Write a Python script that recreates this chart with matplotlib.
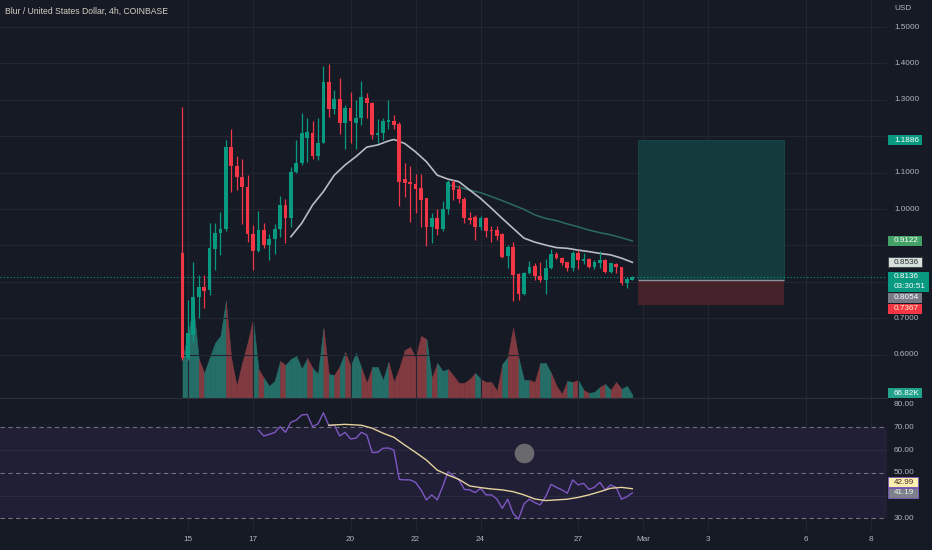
import numpy as np
import pandas as pd
import matplotlib
matplotlib.use('Agg')
import matplotlib.pyplot as plt
import matplotlib.dates as mdates
from matplotlib.patches import Rectangle

# 4h candles, first one opens 2023-02-14 20:00
opens = [0.879, 0.591, 0.654, 0.758, 0.786, 0.778, 0.890, 0.935, 0.945, 1.171,
         1.118, 1.089, 1.061, 0.931, 0.885, 0.942, 0.901, 0.918, 0.944, 1.011,
         0.976, 1.102, 1.126, 1.196, 1.210, 1.146, 1.182, 1.350, 1.275, 1.302,
         1.235, 1.277, 1.235, 1.251, 1.304, 1.290, 1.203, 1.208, 1.240, 1.242,
         1.233, 1.082, 1.074, 1.070, 1.057, 1.029, 0.951, 0.974, 0.944, 1.000,
         1.075, 1.054, 1.027, 0.975, 0.979, 0.951, 0.976, 0.942, 0.942, 0.930,
         0.871, 0.896, 0.821, 0.766, 0.825, 0.843, 0.816, 0.805, 0.837, 0.876,
         0.865, 0.854, 0.837, 0.880, 0.857, 0.864, 0.842, 0.852, 0.860, 0.828,
         0.849, 0.842, 0.797, 0.806]
highs = [1.280, 0.750, 0.854, 0.819, 0.819, 0.961, 0.961, 0.992, 1.190, 1.219,
         1.146, 1.137, 1.093, 0.956, 0.995, 0.961, 0.931, 0.959, 1.036, 1.027,
         1.115, 1.190, 1.265, 1.249, 1.242, 1.249, 1.393, 1.398, 1.327, 1.359,
         1.286, 1.322, 1.300, 1.352, 1.318, 1.295, 1.246, 1.250, 1.300, 1.258,
         1.238, 1.126, 1.118, 1.096, 1.096, 1.031, 0.988, 1.000, 1.023, 1.080,
         1.080, 1.066, 1.034, 0.993, 0.984, 0.982, 0.979, 0.953, 0.953, 0.933,
         0.901, 0.910, 0.824, 0.827, 0.858, 0.851, 0.854, 0.862, 0.889, 0.882,
         0.869, 0.855, 0.885, 0.887, 0.880, 0.865, 0.860, 0.885, 0.864, 0.853,
         0.852, 0.842, 0.814, 0.816]
lows = [0.585, 0.585, 0.635, 0.700, 0.728, 0.765, 0.832, 0.874, 0.940, 1.048,
        1.052, 0.959, 0.910, 0.832, 0.883, 0.893, 0.860, 0.876, 0.924, 0.907,
        0.951, 1.100, 1.120, 1.130, 1.137, 1.135, 1.180, 1.254, 1.260, 1.206,
        1.164, 1.180, 1.164, 1.230, 1.249, 1.191, 1.182, 1.190, 1.220, 1.220,
        1.009, 1.034, 0.965, 0.990, 0.951, 0.899, 0.907, 0.929, 0.940, 0.986,
        1.025, 1.016, 0.962, 0.960, 0.915, 0.943, 0.924, 0.910, 0.915, 0.866,
        0.837, 0.748, 0.750, 0.763, 0.821, 0.805, 0.800, 0.767, 0.835, 0.862,
        0.846, 0.830, 0.830, 0.834, 0.849, 0.837, 0.836, 0.837, 0.823, 0.823,
        0.825, 0.791, 0.782, 0.805]
closes = [0.591, 0.658, 0.758, 0.786, 0.775, 0.893, 0.935, 0.945, 1.171, 1.118,
          1.089, 1.061, 0.931, 0.885, 0.942, 0.901, 0.918, 0.944, 1.011, 0.976,
          1.102, 1.126, 1.208, 1.212, 1.146, 1.182, 1.350, 1.275, 1.302, 1.235,
          1.277, 1.243, 1.249, 1.309, 1.290, 1.203, 1.210, 1.242, 1.245, 1.231,
          1.075, 1.071, 1.070, 1.055, 1.025, 0.951, 0.974, 0.944, 1.000, 1.075,
          1.052, 1.027, 0.974, 0.971, 0.951, 0.976, 0.940, 0.940, 0.926, 0.869,
          0.896, 0.819, 0.766, 0.825, 0.842, 0.816, 0.805, 0.837, 0.876, 0.865,
          0.851, 0.837, 0.880, 0.860, 0.863, 0.842, 0.854, 0.860, 0.828, 0.851,
          0.840, 0.798, 0.808, 0.8136]
volumes_k = [870, 1427, 2052, 870, 558, 892, 1227, 1383, 2163, 870,
             268, 781, 1227, 1762, 647, 446, 268, 379, 825, 736,
             870, 937, 647, 892, 669, 535, 1561, 535, 513, 714,
             1026, 714, 1004, 669, 335, 691, 691, 401, 803, 357,
             669, 1070, 1137, 892, 1383, 1316, 446, 781, 602, 647,
             491, 335, 335, 424, 558, 424, 357, 357, 156, 758,
             914, 1561, 892, 401, 401, 357, 781, 781, 558, 268,
             89, 379, 357, 401, 178, 112, 134, 245, 312, 178,
             357, 201, 268, 66.82]

# moving averages on price (candle index, value)
ma20_idx = [20, 22, 24, 26, 28, 30, 32, 34, 36, 38, 39, 41, 43, 45, 47, 49, 51,
            53, 55, 57, 59, 61, 63, 65, 67, 69, 71, 73, 75, 77, 79, 81, 83]
ma20_vals = [0.924, 0.961, 1.011, 1.048, 1.093, 1.121, 1.144, 1.170, 1.176, 1.187,
             1.191, 1.180, 1.157, 1.130, 1.093, 1.082, 1.075, 1.052, 1.029, 1.002,
             0.974, 0.947, 0.920, 0.909, 0.901, 0.894, 0.892, 0.887, 0.883, 0.878,
             0.874, 0.865, 0.8536]
ma50_idx = [49, 51, 53, 55, 57, 59, 61, 63, 65, 67, 69, 71, 73, 75, 77, 79, 81, 83]
ma50_vals = [1.066, 1.060, 1.052, 1.045, 1.034, 1.023, 1.011, 0.999, 0.984, 0.974,
             0.968, 0.959, 0.951, 0.942, 0.935, 0.929, 0.921, 0.9122]

# RSI pane
rsi_start = 14
rsi_vals = [68.8, 66.2, 66.9, 67.7, 70.3, 67.8, 72.2, 73.2, 75.4, 75.7,
            70.3, 71.5, 76.4, 70.7, 71.0, 66.2, 67.8, 64.9, 65.2, 67.8,
            66.6, 58.9, 59.0, 60.8, 60.9, 60.0, 47.1, 46.9, 46.9, 45.8,
            42.5, 38.1, 40.3, 38.1, 43.9, 50.5, 48.6, 46.9, 42.7, 42.5,
            41.3, 43.2, 40.3, 40.3, 38.5, 34.4, 38.4, 32.2, 29.6, 36.3,
            38.4, 36.9, 35.9, 39.5, 44.9, 43.6, 42.5, 41.0, 46.9, 44.7,
            45.4, 42.7, 43.6, 45.8, 42.5, 44.7, 43.6, 38.4, 39.5, 41.19]
rsi_ma_idx = [27, 30, 33, 35, 37, 39, 41, 43, 45, 47, 49, 51, 53, 55, 57, 59, 61,
              63, 65, 67, 69, 71, 73, 75, 77, 79, 81, 83]
rsi_ma_vals = [70.9, 71.3, 70.9, 69.6, 67.4, 65.6, 62.2, 59.0, 55.6, 51.2, 49.0,
               47.1, 44.2, 43.5, 42.9, 42.5, 41.7, 40.3, 38.5, 37.8, 38.1, 38.4,
               39.2, 40.3, 41.7, 43.2, 43.6, 42.99]

# long position tool
target_price = 1.1886
entry_price = 0.8054
stop_price = 0.7367
pos_start = '2023-02-28 20:00'
pos_end = '2023-03-05 08:00'

day_ticks = ['2023-02-15', '2023-02-17', '2023-02-20', '2023-02-22', '2023-02-24',
             '2023-02-27', '2023-03-01', '2023-03-03', '2023-03-06', '2023-03-08']
day_labels = ['15', '17', '20', '22', '24', '27', 'Mar', '3', '6', '8']
price_ticks = [0.6, 0.7, 0.8, 0.9, 1.0, 1.1, 1.2, 1.3, 1.4, 1.5]
rsi_ticks = [30, 50, 60, 70, 80]

bg = '#161a25'
grid_c = '#222631'
txt_c = '#b2b5be'
up_c = '#089981'
down_c = '#f23645'
FS = 5.9
W, H = 932, 550

plt.rcParams['font.family'] = ['Liberation Sans', 'DejaVu Sans']

fig = plt.figure(figsize=(W / 100, H / 100), dpi=100, facecolor=bg)


def rect(x0, y0, x1, y1):
    return [x0 / W, 1 - y1 / H, (x1 - x0) / W, (y1 - y0) / H]


ax = fig.add_axes(rect(0, 0, 887, 398))
rax = fig.add_axes(rect(0, 399, 887, 531), sharex=ax)
vax = ax.twinx()
ax.set_zorder(vax.get_zorder() + 1)
ax.patch.set_visible(False)
rax.set_facecolor(bg)

t = mdates.date2num(pd.date_range('2023-02-14 20:00', periods=len(closes), freq='4h').to_pydatetime())
day_x = mdates.date2num(pd.to_datetime(day_ticks).to_pydatetime())

ax.set_xlim(t[0] - 5.612, t[0] + 21.664)
ax.set_ylim(0.4808, 1.5742)
vax.set_ylim(0, 8875)
rax.set_ylim(24.42, 82.44)

for a in (ax, vax, rax):
    for s in a.spines.values():
        s.set_visible(False)
    a.tick_params(left=False, right=False, bottom=False, top=False,
                  labelleft=False, labelright=False, labelbottom=False)
ax.spines['bottom'].set_visible(True)
ax.spines['bottom'].set_color('#2a2e39')

# grid
for d in day_x:
    ax.axvline(d, color=grid_c, lw=0.8, zorder=0)
    rax.axvline(d, color=grid_c, lw=0.8, zorder=0)
for p in price_ticks:
    ax.axhline(p, color=grid_c, lw=0.8, zorder=0)

# volume area, each segment coloured by the candle it ends on
vol = np.array(volumes_k)
for i in range(1, len(vol)):
    c = '#256e68' if closes[i] >= opens[i] else '#823a41'
    vax.fill_between(t[i - 1:i + 1], 0, vol[i - 1:i + 1], color=c, lw=0.4, zorder=1)

# candles
o = np.array(opens); c = np.array(closes)
cols = [up_c if cc >= oo else down_c for oo, cc in zip(o, c)]
ax.vlines(t, lows, highs, colors=cols, lw=0.9, zorder=3)
body_h = np.maximum(np.abs(c - o), 0.003)
ax.bar(t, body_h, bottom=np.minimum(o, c), width=0.115, color=cols, lw=0, zorder=4)

# moving averages
ax.plot(t[ma50_idx], ma50_vals, color='#2c6a60', lw=1.1, zorder=2)
ax.plot(t[ma20_idx], ma20_vals, color='#b9bcc3', lw=1.2, zorder=2)

# last price line
ax.axhline(closes[-1], color=up_c, lw=0.8, ls=(0, (1, 2)), zorder=2)

# position tool
ps = mdates.date2num(pd.Timestamp(pos_start).to_pydatetime())
pe = mdates.date2num(pd.Timestamp(pos_end).to_pydatetime())
ax.add_patch(Rectangle((ps, entry_price), pe - ps, target_price - entry_price,
                       fc='#133a3c', ec='#1a4747', lw=0.6, zorder=1))
ax.add_patch(Rectangle((ps, stop_price), pe - ps, entry_price - stop_price,
                       fc='#45222a', ec='none', zorder=1))
ax.hlines(entry_price, ps, pe, color='#8d9099', lw=1.0, zorder=2)

# RSI pane
rax.axhspan(30, 70, color='#201f36', lw=0, zorder=0)
for lv in (40, 60):
    rax.axhline(lv, color='#2a2a40', lw=0.8, zorder=0.5)
for lv in (30, 50, 70):
    rax.axhline(lv, color='#6e7080', lw=0.8, ls=(0, (4, 3)), zorder=1)
rax.plot(t[rsi_start:], rsi_vals, color='#7e57c2', lw=1.0, zorder=3)
rax.plot(t[rsi_ma_idx], rsi_ma_vals, color='#e6d39e', lw=1.0, zorder=4)
rax.scatter([mdates.date2num(pd.Timestamp('2023-02-25 08:00').to_pydatetime())], [58.7],
            s=200, color='#6a6a6e', lw=0, zorder=5)

# x labels
for d, lab in zip(day_x, day_labels):
    rax.text(d, -0.068, lab, transform=rax.get_xaxis_transform(), ha='center', va='center',
             fontsize=FS, color=txt_c, clip_on=False)


def py(a, v):
    return H - a.transData.transform((a.get_xlim()[0], v))[1]


tag_rows = []


def tag(ypx, s, fc, tc, w=34, h=10, top=None, ec='none'):
    y0 = ypx - h / 2 if top is None else top
    tag_rows.append((y0, y0 + h))
    fig.patches.append(Rectangle((888 / W, 1 - (y0 + h) / H), w / W, h / H,
                                 transform=fig.transFigure, fc=fc, ec=ec, lw=0.6, zorder=5))
    if s:
        fig.text(894 / W, 1 - (y0 + h / 2) / H, s, ha='left', va='center', fontsize=FS,
                 color=tc, zorder=6)


def right_text(ypx, s, color=txt_c):
    # scale labels hidden behind a value tag are not drawn
    for y0, y1 in tag_rows:
        if y0 - 3 < ypx < y1 + 3:
            return
    fig.text(894 / W, 1 - ypx / H, s, ha='left', va='center', fontsize=FS, color=color)


tag(py(ax, target_price), f'{target_price:.4f}', up_c, 'white')
tag(py(ax, ma50_vals[-1]), f'{ma50_vals[-1]:.4f}', '#43a366', 'white')
tag(py(ax, ma20_vals[-1]), f'{ma20_vals[-1]:.4f}', '#d5e0da', '#2a2e39', ec='#3a3e49')
y_last = py(ax, closes[-1])
tag(0, '', up_c, 'white', w=41, h=20, top=y_last - 5)
fig.text(894 / W, 1 - y_last / H, f'{closes[-1]:.4f}', ha='left', va='center',
         fontsize=FS, color='white', zorder=6)
fig.text(894 / W, 1 - (y_last + 10) / H, '03:30:51', ha='left', va='center',
         fontsize=FS, color='white', zorder=6)
tag(py(ax, entry_price) + 18, f'{entry_price:.4f}', '#787b86', 'white')
tag(py(ax, stop_price) + 4, f'{stop_price:.4f}', down_c, '#fff3c9')
tag(py(vax, volumes_k[-1]) - 2, f'{volumes_k[-1]:.2f}K', '#22a18b', 'white')
tag(py(rax, rsi_ma_vals[-1]) - 6.5, f'{rsi_ma_vals[-1]:.2f}', '#fbefb0', '#4a2626', w=30, ec='#7e57c2')
tag(py(rax, rsi_vals[-1]), f'{rsi_vals[-1]:.2f}', '#7d7f8b', '#e8f0e8', w=30, ec='#7e57c2')

for p in price_ticks:
    right_text(py(ax, p), f'{p:.4f}')
for r in rsi_ticks:
    right_text(py(rax, r), f'{r:.2f}')
fig.text(894 / W, 1 - 8 / H, 'USD', ha='left', va='center', fontsize=FS, color=txt_c)

fig.text(5 / W, 1 - 11 / H, 'Blur / United States Dollar, 4h, COINBASE', ha='left', va='center',
         fontsize=FS + 0.3, color='#d4cfc3')

fig.savefig('out.png', dpi=100, facecolor=bg)
